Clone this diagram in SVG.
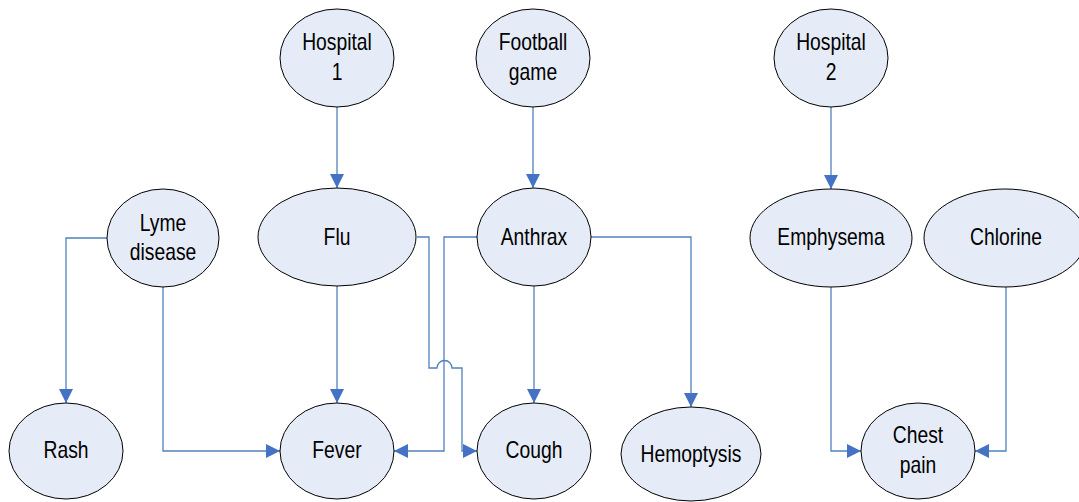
<svg xmlns="http://www.w3.org/2000/svg" width="1079" height="502" viewBox="0 0 1079 502">
  <style>
    .node ellipse { fill: #E6ECF7; stroke: #000; stroke-width: 1; }
    .node text { font-family: "Liberation Sans", Arial, sans-serif; font-size: 23px; fill: #000; text-anchor: middle; }
    .edge { fill: none; stroke: #4F81BD; stroke-width: 1.3; marker-end: url(#arrow); }
  </style>
  <defs>
    <marker id="arrow" markerUnits="userSpaceOnUse" markerWidth="14" markerHeight="14" refX="14" refY="7" orient="auto">
      <path d="M0,0 L14,7 L0,14 z" fill="#4472C4"/>
    </marker>
  </defs>

  <g id="connectors">
    <path class="edge" d="M337,107 V188"/>
    <path class="edge" d="M533,107 V188"/>
    <path class="edge" d="M831,107 V189"/>
    <path class="edge" d="M107,238 H66 V403"/>
    <path class="edge" d="M163,287 V451 H280"/>
    <path class="edge" d="M337,286 V403"/>
    <path class="edge" d="M417,237 H429 V368 H437 A7.5,7.5 0 0 1 452,368 H462 V451 H477"/>
    <path class="edge" d="M477,237 H444 V451 H394"/>
    <path class="edge" d="M534,286 V403"/>
    <path class="edge" d="M591,237 H691 V407"/>
    <path class="edge" d="M831,287 V451 H861"/>
    <path class="edge" d="M1006,287 V451 H975"/>
  </g>

  <g id="hospital1" class="node">
    <ellipse cx="337" cy="58" rx="57" ry="49"/>
    <text transform="translate(337 0) scale(0.84 1)" y="50">Hospital</text>
    <text transform="translate(337 0) scale(0.84 1)" y="80">1</text>
  </g>
  <g id="football" class="node">
    <ellipse cx="533" cy="58" rx="57" ry="49"/>
    <text transform="translate(533 0) scale(0.84 1)" y="50">Football</text>
    <text transform="translate(533 0) scale(0.84 1)" y="80">game</text>
  </g>
  <g id="hospital2" class="node">
    <ellipse cx="831" cy="58" rx="57" ry="49"/>
    <text transform="translate(831 0) scale(0.84 1)" y="50">Hospital</text>
    <text transform="translate(831 0) scale(0.84 1)" y="80">2</text>
  </g>
  <g id="lyme" class="node">
    <ellipse cx="163" cy="238" rx="56" ry="49"/>
    <text transform="translate(163 0) scale(0.84 1)" y="231">Lyme</text>
    <text transform="translate(163 0) scale(0.84 1)" y="260">disease</text>
  </g>
  <g id="flu" class="node">
    <ellipse cx="337" cy="237" rx="79" ry="49"/>
    <text transform="translate(337 0) scale(0.84 1)" y="245">Flu</text>
  </g>
  <g id="anthrax" class="node">
    <ellipse cx="534" cy="237" rx="57" ry="49"/>
    <text transform="translate(534 0) scale(0.84 1)" y="245">Anthrax</text>
  </g>
  <g id="emphysema" class="node">
    <ellipse cx="831" cy="238" rx="81" ry="49"/>
    <text transform="translate(831 0) scale(0.84 1)" y="245">Emphysema</text>
  </g>
  <g id="chlorine" class="node">
    <ellipse cx="1005" cy="238" rx="81" ry="49"/>
    <text transform="translate(1006 0) scale(0.84 1)" y="245">Chlorine</text>
  </g>
  <g id="rash" class="node">
    <ellipse cx="66" cy="451" rx="57" ry="48"/>
    <text transform="translate(66 0) scale(0.84 1)" y="458">Rash</text>
  </g>
  <g id="fever" class="node">
    <ellipse cx="337" cy="451" rx="57" ry="48"/>
    <text transform="translate(337 0) scale(0.84 1)" y="458">Fever</text>
  </g>
  <g id="cough" class="node">
    <ellipse cx="534" cy="451" rx="57" ry="48"/>
    <text transform="translate(534 0) scale(0.84 1)" y="458">Cough</text>
  </g>
  <g id="hemoptysis" class="node">
    <ellipse cx="691" cy="454" rx="70" ry="47"/>
    <text transform="translate(691 0) scale(0.84 1)" y="462">Hemoptysis</text>
  </g>
  <g id="chestpain" class="node">
    <ellipse cx="918" cy="451" rx="57" ry="48"/>
    <text transform="translate(918 0) scale(0.84 1)" y="443">Chest</text>
    <text transform="translate(918 0) scale(0.84 1)" y="473">pain</text>
  </g>
</svg>
